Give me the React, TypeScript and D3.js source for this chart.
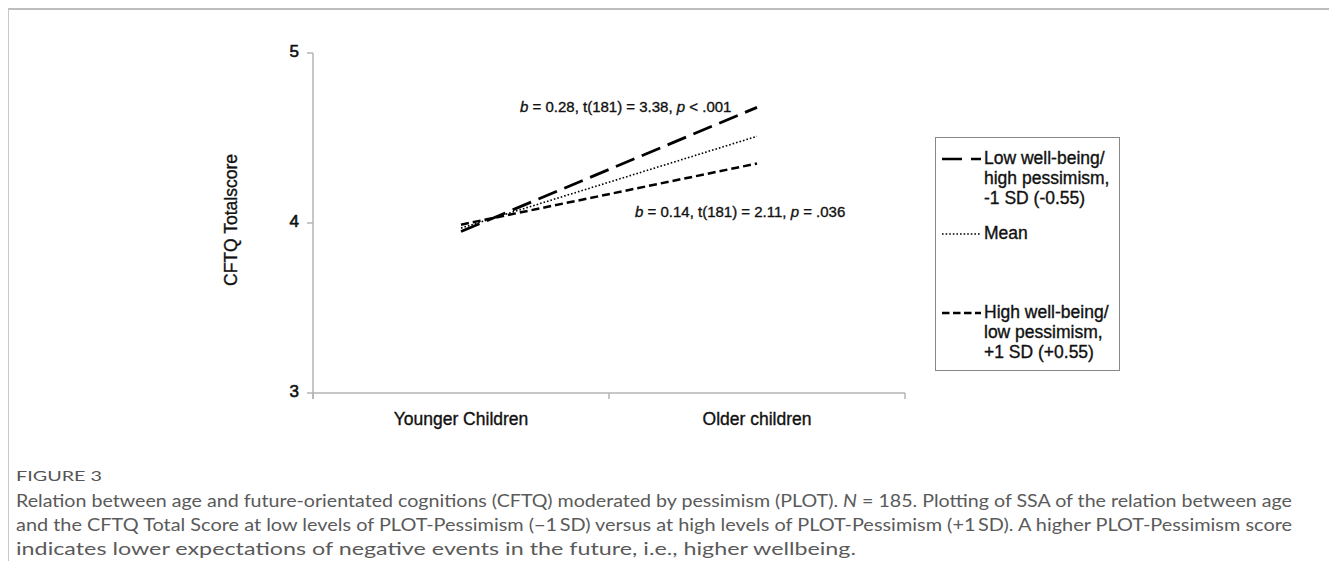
import React from "react";
import * as d3 from "d3";

const categories = ["Younger Children", "Older children"];
const yTicks = [3, 4, 5];
const lowWellBeing = [3.95, 4.68];
const meanSeries = [3.97, 4.51];
const highWellBeing = [3.99, 4.35];
const annotationTop = { b: "0.28", t: "3.38", p: "< .001" };
const annotationBottom = { b: "0.14", t: "2.11", p: "= .036" };
const legendLow = ["Low well-being/", "high pessimism,", "-1 SD (-0.55)"];
const legendMean = ["Mean"];
const legendHigh = ["High well-being/", "low pessimism,", "+1 SD (+0.55)"];
const captionTitle = "FIGURE 3";
const captionLines = [
  "Relation between age and future-orientated cognitions (CFTQ) moderated by pessimism (PLOT). |N| = 185. Plotting of SSA of the relation between age",
  "and the CFTQ Total Score at low levels of PLOT-Pessimism (\u22121\u2009SD) versus at high levels of PLOT-Pessimism (+1\u2009SD). A higher PLOT-Pessimism score",
  "indicates lower expectations of negative events in the future, i.e., higher wellbeing.",
];

const W = 1329;
const H = 561;
const font = "'Liberation Sans', Arial, Helvetica, sans-serif";
const capFont = "Lato, 'Open Sans', sans-serif";
const ink = "#111";

export default function App() {
  const x = d3.scaleBand<string>().domain(categories).range([313, 905]).padding(0);
  const y = d3.scaleLinear().domain([3, 5]).range([393, 53]);
  const cx = (c: string) => (x(c) as number) + x.bandwidth() / 2;
  const line = d3
    .line<number>()
    .x((_, i) => cx(categories[i]))
    .y((d) => y(d));

  const series = [
    { data: lowWellBeing, dash: "20 8", width: 2.8 },
    { data: meanSeries, dash: "1.6 2", width: 1.6 },
    { data: highWellBeing, dash: "8 4", width: 2.5 },
  ];

  const boundaries = [313, ...categories.map((c) => (x(c) as number) + x.bandwidth())];

  const legendX = 935;
  const legendY = 137;
  const legendW = 184;
  const legendH = 233;

  const textStroke = { stroke: ink, strokeWidth: 0.35 };

  const renderAnn = (a: { b: string; t: string; p: string }, xx: number, yy: number) => (
    <text x={xx} y={yy} fontSize={15} fontFamily={font} fill={ink} dominantBaseline="middle" {...textStroke}>
      <tspan fontStyle="italic">b</tspan>
      <tspan>{` = ${a.b}, t(181) = ${a.t}, `}</tspan>
      <tspan fontStyle="italic">p</tspan>
      <tspan>{` ${a.p}`}</tspan>
    </text>
  );

  return (
    <svg width={W} height={H} style={{ position: "absolute", left: 0, top: 0, background: "#fff" }}>
      {/* frame */}
      <line x1={8} x2={W} y1={9} y2={9} stroke="#bdbdbd" strokeWidth={2} />
      <line x1={8.5} x2={8.5} y1={9} y2={H} stroke="#c8c8c8" strokeWidth={1} />

      {/* y axis */}
      <line x1={313} x2={313} y1={y(5)} y2={y(3) + 6} stroke="#b5b5b5" strokeWidth={1.5} />
      {yTicks.map((t) => (
        <g key={t}>
          <line x1={307} x2={313} y1={y(t)} y2={y(t)} stroke="#b5b5b5" strokeWidth={1.5} />
          <text x={299} y={y(t)} textAnchor="end" dominantBaseline="middle" fontSize={17} fontFamily={font} fill={ink} stroke={ink} strokeWidth={0.6}>
            {t}
          </text>
        </g>
      ))}
      {/* x axis */}
      <line x1={313} x2={905} y1={y(3)} y2={y(3)} stroke="#b5b5b5" strokeWidth={1.5} />
      {boundaries.map((b, i) => (
        <line key={i} x1={b} x2={b} y1={y(3)} y2={y(3) + 6} stroke="#b5b5b5" strokeWidth={1.5} />
      ))}
      {categories.map((c) => (
        <text key={c} x={cx(c)} y={y(3) + 27} textAnchor="middle" dominantBaseline="middle" fontSize={17.5} fontFamily={font} fill={ink} {...textStroke}>
          {c}
        </text>
      ))}
      <text
        transform={`translate(232,${y(4) - 3}) rotate(-90)`}
        textAnchor="middle"
        dominantBaseline="middle"
        fontSize={17.5}
        fontFamily={font}
        fill={ink}
        {...textStroke}
      >
        CFTQ Totalscore
      </text>

      {/* lines */}
      {series.map((s, i) => (
        <path key={i} d={line(s.data) || ""} fill="none" stroke="#000" strokeWidth={s.width} strokeDasharray={s.dash} />
      ))}

      {renderAnn(annotationTop, 520, 108)}
      {renderAnn(annotationBottom, 635, 213)}

      {/* legend */}
      <rect x={legendX + 0.5} y={legendY + 0.5} width={legendW} height={legendH} fill="#fff" stroke="#888" strokeWidth={1} />
      {[
        { lines: legendLow, y0: 159, dash: "20 9", width: 2.6 },
        { lines: legendMean, y0: 234, dash: "1.6 2", width: 1.6 },
        { lines: legendHigh, y0: 313, dash: "7.5 3.5", width: 2.4 },
      ].map((l, i) => (
        <g key={i}>
          <line x1={942} x2={981} y1={l.y0} y2={l.y0} stroke="#000" strokeWidth={l.width} strokeDasharray={l.dash} />
          {l.lines.map((t, j) => (
            <text key={j} x={984} y={l.y0 + j * 20} dominantBaseline="middle" fontSize={17.5} fontFamily={font} fill={ink} {...textStroke}>
              {t}
            </text>
          ))}
        </g>
      ))}

      {/* caption */}
      <text x={16} y={477} dominantBaseline="middle" fontSize={14} fontFamily={capFont} fill="#555" textLength={86} lengthAdjust="spacingAndGlyphs">
        {captionTitle}
      </text>
      {captionLines.map((ln, i) => {
        const parts = ln.split("|");
        const lengths = [1276, 1276, 840];
        return (
          <text
            key={i}
            x={16}
            y={503 + i * 24}
            dominantBaseline="middle"
            fontSize={17}
            fontFamily={capFont}
            fill="#5a5a5a"
            textLength={lengths[i]}
            lengthAdjust="spacingAndGlyphs"
          >
            {parts.map((p, k) => (
              <tspan key={k} fontStyle={k === 1 ? "italic" : "normal"}>
                {p}
              </tspan>
            ))}
          </text>
        );
      })}
    </svg>
  );
}
